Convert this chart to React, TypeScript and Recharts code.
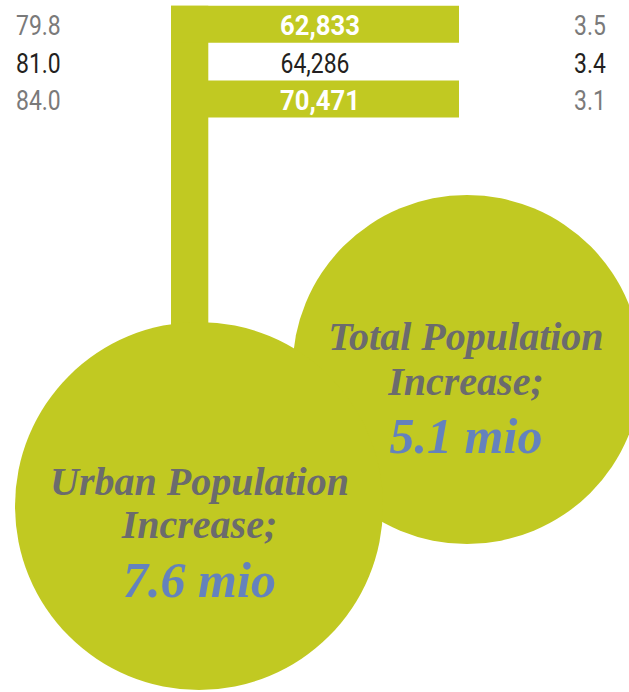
import React from 'react'
import {
  BarChart,
  Bar,
  Cell,
  LabelList,
  ScatterChart,
  Scatter,
  XAxis,
  YAxis,
  ZAxis,
  ReferenceArea,
} from 'recharts'

// table rows
const leftValues = ['79.8', '81.0', '84.0']
const midValues = [62833, 64286, 70471]
const rightValues = ['3.5', '3.4', '3.1']
const highlighted = [true, false, true]

// bubbles (drawn in this order, urban last so its text sits on top)
const circleNames = ['Total Population', 'Urban Population']
const circleValues = [5.1, 7.6]

const GREEN = '#c1c922'
const GRAY = '#7a7a7a'
const DARK = '#231f20'
const CIRCLE_TEXT = '#6b6b6d'
const BLUE = '#6482bd'

const W = 629
const H = 692

// where the bubbles sit on the page, and their text baselines relative to centre
const circleLayout = [
  { x: 467, y: 369.5, lines: [-19.5, 25.5, 83.5], tx: -1 },
  { x: 199, y: 506, lines: [-11, 32, 91], tx: 0.5 },
]

const rows = leftValues.map((left, i) => ({
  left,
  mid: midValues[i],
  right: rightValues[i],
  hl: highlighted[i],
}))

const bubbles = circleNames.map((name, i) => ({
  name,
  value: circleValues[i],
  x: circleLayout[i].x,
  y: circleLayout[i].y,
}))

const numFont = 'Roboto, "Noto Sans", sans-serif'
const serifFont = '"Liberation Serif", "DejaVu Serif", serif'

// the original uses a condensed face; squeeze Roboto a bit
const squeeze = 0.85

function Num({ x, y, anchor, fill, bold, children }: any) {
  const sx = bold ? 0.95 : squeeze
  return (
    <text
      transform={`translate(${x},${y}) scale(${sx},1)`}
      textAnchor={anchor}
      fill={fill}
      fontWeight={bold ? 700 : 400}
    >
      {children}
    </text>
  )
}

function RowLabel(props: any) {
  const { x, y, height, index, width } = props
  const row = rows[index]
  const base = y + height / 2 + 11
  const side = row.hl ? GRAY : DARK
  return (
    <g style={{ fontFamily: numFont, fontSize: 27 }}>
      <Num x={16} y={base} anchor="start" fill={side}>{row.left}</Num>
      <Num
        x={x + width / 2 + (row.hl ? 5 : 0)}
        y={base}
        anchor="middle"
        fill={row.hl ? '#ffffff' : DARK}
        bold={row.hl}
      >
        {row.mid.toLocaleString('en-US')}
      </Num>
      <Num x={574} y={base} anchor="start" fill={side}>{row.right}</Num>
    </g>
  )
}

function Bubble(props: any) {
  const { cx, cy, width, size, index, payload } = props
  const r = width ? width / 2 : Math.sqrt(size / Math.PI)
  const lay = circleLayout[index]
  const tx = cx + lay.tx
  return (
    <g>
      <circle cx={cx} cy={cy} r={r} fill={GREEN} />
      <g style={{ fontFamily: serifFont, fontStyle: 'italic', fontWeight: 700 }} textAnchor="middle">
        <text x={tx} y={cy + lay.lines[0]} fill={CIRCLE_TEXT} fontSize={40}>
          {payload.name}
        </text>
        <text x={tx} y={cy + lay.lines[1]} fill={CIRCLE_TEXT} fontSize={40}>
          Increase;
        </text>
        <text x={tx} y={cy + lay.lines[2]} fill={BLUE} fontSize={50}>
          {`${payload.value} mio`}
        </text>
      </g>
    </g>
  )
}

export default function App() {
  return (
    <div style={{ position: 'relative', width: W, height: H, overflow: 'hidden', background: '#fff' }}>
      <style>{`body{margin:0}`}</style>
      <div style={{ position: 'absolute', left: 0, top: 0 }}>
        <ScatterChart width={W} height={H} margin={{ top: 0, right: 0, bottom: 0, left: 0 }}>
          <XAxis type="number" dataKey="x" domain={[0, W]} hide />
          <YAxis type="number" dataKey="y" domain={[0, H]} reversed hide />
          <ZAxis
            type="number"
            dataKey="value"
            domain={[5.1, 7.6]}
            range={[Math.PI * 174.5 * 174.5, Math.PI * 184 * 184]}
          />
          <ReferenceArea x1={171} x2={208.3} y1={5.7} y2={340} fill={GREEN} fillOpacity={1} stroke="none" />
          <Scatter data={bubbles} shape={<Bubble />} isAnimationActive={false} />
        </ScatterChart>
      </div>
      <div style={{ position: 'absolute', left: 0, top: 0 }}>
        <BarChart
          width={W}
          height={118}
          data={rows}
          layout="vertical"
          barCategoryGap={0}
          margin={{ top: 5.7, right: 170, bottom: 0, left: 171 }}
        >
          <XAxis type="number" domain={[0, 1]} hide />
          <YAxis type="category" dataKey="left" hide />
          <Bar dataKey={() => 1} isAnimationActive={false}>
            {rows.map((r, i) => (
              <Cell key={i} fill={r.hl ? GREEN : 'transparent'} />
            ))}
            <LabelList content={<RowLabel />} />
          </Bar>
        </BarChart>
      </div>
    </div>
  )
}
